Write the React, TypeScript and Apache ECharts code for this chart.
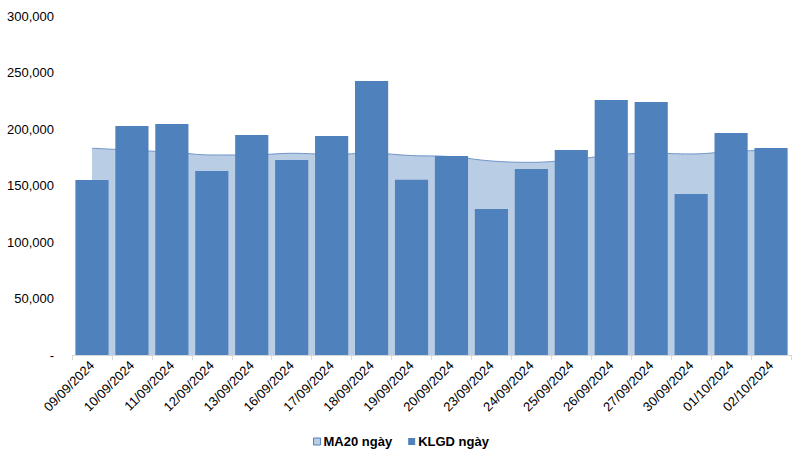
import React, { useEffect, useRef } from "react";
import * as echarts from "echarts";

const categories = [
  "09/09/2024", "10/09/2024", "11/09/2024", "12/09/2024", "13/09/2024", "16/09/2024",
  "17/09/2024", "18/09/2024", "19/09/2024", "20/09/2024", "23/09/2024", "24/09/2024",
  "25/09/2024", "26/09/2024", "27/09/2024", "30/09/2024", "01/10/2024", "02/10/2024",
];

const klgd = [
  154900, 202700, 204400, 162800, 194700, 172600, 193800, 242500, 155000,
  176100, 129200, 164600, 181400, 225700, 223900, 142500, 196500, 183200,
];

const ma20 = [
  183000, 181200, 179500, 177000, 177000, 178500, 177600, 178500, 176500,
  175500, 171700, 170500, 172800, 176800, 178500, 177900, 180000, 181500,
];

const yTicks = [0, 50000, 100000, 150000, 200000, 250000, 300000];

const fmt = (v: number) =>
  v === 0 ? "-" : v.toString().replace(/\B(?=(\d{3})+(?!\d))/g, ",");

export default function App() {
  const ref = useRef<HTMLDivElement>(null);
  useEffect(() => {
    if (!ref.current) return;
    const chart = echarts.init(ref.current, undefined, { renderer: "svg" });
    chart.setOption({
      animation: false,
      backgroundColor: "#ffffff",
      textStyle: { fontFamily: "Liberation Sans, Arial, sans-serif" },
      grid: { left: 72, right: 11, top: 16, bottom: 101, containLabel: false },
      legend: {
        bottom: 3,
        left: "center",
        itemWidth: 7,
        itemHeight: 7,
        itemGap: 16,
        textStyle: {
          fontFamily: "Liberation Sans Narrow, Liberation Sans, Arial, sans-serif",
          fontWeight: "bold",
          fontSize: 13,
          color: "#000",
          padding: [0, 0, 0, -2],
        },
        data: [
          { name: "MA20 ngày", icon: "rect", itemStyle: { color: "#B9CDE5", borderColor: "#4F81BD", borderWidth: 1 } },
          { name: "KLGD ngày", icon: "rect", itemStyle: { color: "#4F81BD" } },
        ],
      },
      xAxis: {
        type: "category",
        data: categories,
        boundaryGap: true,
        axisLine: { show: true, lineStyle: { color: "#D9D9D9", width: 1 } },
        axisTick: { show: true, alignWithLabel: false, length: 5, lineStyle: { color: "#D9D9D9" } },
        axisLabel: {
          rotate: 45,
          interval: 0,
          margin: 8,
          fontSize: 13,
          color: "#000",
          fontFamily: "Liberation Sans, Arial, sans-serif",
        },
      },
      yAxis: {
        type: "value",
        min: 0,
        max: 300000,
        interval: 50000,
        axisLine: { show: false },
        axisTick: { show: false },
        splitLine: { show: false },
        axisLabel: {
          margin: 18,
          fontSize: 13,
          color: "#000",
          formatter: (v: number) => (yTicks.includes(v) ? fmt(v) : ""),
        },
      },
      series: [
        {
          name: "MA20 ngày",
          type: "line",
          data: ma20,
          smooth: 0.4,
          symbol: "none",
          lineStyle: { color: "#6F95C9", width: 1 },
          itemStyle: { color: "#B9CDE5" },
          areaStyle: { color: "#B9CDE5", opacity: 1 },
          z: 1,
        },
        {
          name: "KLGD ngày",
          type: "bar",
          data: klgd,
          barCategoryGap: "17%",
          itemStyle: { color: "#4F81BD" },
          z: 2,
        },
      ],
    });
    return () => chart.dispose();
  }, []);
  return <div ref={ref} style={{ width: 802, height: 456, position: "absolute", left: 0, top: 0 }} />;
}
